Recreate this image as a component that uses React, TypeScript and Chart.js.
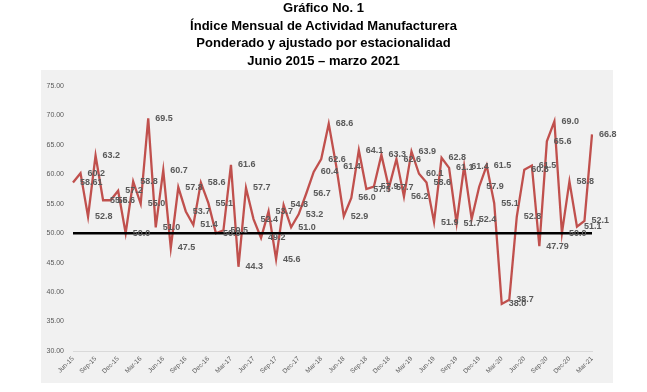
import React, { useEffect, useRef } from "react";
import { Chart, registerables } from "chart.js";

Chart.register(...registerables);

const titleLines = [
  "Gráfico No. 1",
  "Índice Mensual de Actividad Manufacturera",
  "Ponderado y ajustado por estacionalidad",
  "Junio 2015 – marzo 2021",
];

const months = [
  "Jun-15", "Jul-15", "Aug-15", "Sep-15", "Oct-15", "Nov-15", "Dec-15",
  "Jan-16", "Feb-16", "Mar-16", "Apr-16", "May-16", "Jun-16", "Jul-16", "Aug-16", "Sep-16", "Oct-16", "Nov-16", "Dec-16",
  "Jan-17", "Feb-17", "Mar-17", "Apr-17", "May-17", "Jun-17", "Jul-17", "Aug-17", "Sep-17", "Oct-17", "Nov-17", "Dec-17",
  "Jan-18", "Feb-18", "Mar-18", "Apr-18", "May-18", "Jun-18", "Jul-18", "Aug-18", "Sep-18", "Oct-18", "Nov-18", "Dec-18",
  "Jan-19", "Feb-19", "Mar-19", "Apr-19", "May-19", "Jun-19", "Jul-19", "Aug-19", "Sep-19", "Oct-19", "Nov-19", "Dec-19",
  "Jan-20", "Feb-20", "Mar-20", "Apr-20", "May-20", "Jun-20", "Jul-20", "Aug-20", "Sep-20", "Oct-20", "Nov-20", "Dec-20",
  "Jan-21", "Feb-21", "Mar-21",
];

const imae = [
  58.61, 60.2, 52.8, 63.2, 55.6, 55.6, 57.2, 50.0, 58.8, 55.0,
  69.5, 51.0, 60.7, 47.5, 57.8, 53.7, 51.4, 58.6, 55.1, 50.0,
  50.5, 61.6, 44.3, 57.7, 52.4, 49.2, 53.7, 45.6, 54.8, 51.0,
  53.2, 56.7, 60.4, 62.6, 68.6, 61.4, 52.9, 56.0, 64.1, 57.5,
  57.9, 63.3, 57.7, 62.6, 56.2, 63.9, 60.1, 58.6, 51.9, 62.8,
  61.1, 51.7, 61.4, 52.4, 57.9, 61.5, 55.1, 38.0, 38.7, 52.8,
  60.8, 61.5, 47.79, 65.6, 69.0, 50.0, 58.8, 51.1, 52.1, 66.8,
];

const threshold = 50;
const yMin = 30;
const yMax = 75;
const yStep = 5;

const FONT = "'Liberation Sans', Arial, sans-serif";

function fmt(v: number): string {
  const t = v * 10;
  return Math.abs(t - Math.round(t)) < 1e-6 ? v.toFixed(1) : v.toFixed(2);
}

const panelPlugin = {
  id: "panel",
  beforeDraw(chart: any) {
    const ctx = chart.ctx;
    ctx.save();
    ctx.fillStyle = "#f1f1f1";
    ctx.fillRect(41, 70, 572, 313);
    ctx.restore();
  },
};

const labelPlugin = {
  id: "valueLabels",
  afterDatasetsDraw(chart: any) {
    const meta = chart.getDatasetMeta(1);
    const ctx = chart.ctx;
    ctx.save();
    ctx.font = `bold 9px ${FONT}`;
    ctx.fillStyle = "#595959";
    ctx.textAlign = "left";
    ctx.textBaseline = "middle";
    meta.data.forEach((pt: any, i: number) => {
      ctx.fillText(fmt(imae[i]), pt.x + 7, pt.y);
    });
    ctx.restore();
  },
};

export default function App() {
  const ref = useRef<HTMLCanvasElement>(null);

  useEffect(() => {
    if (!ref.current) return;
    const chart = new Chart(ref.current, {
      type: "line",
      data: {
        labels: months,
        datasets: [
          {
            data: months.map(() => threshold),
            borderColor: "#000000",
            borderWidth: 2.5,
            pointRadius: 0,
            tension: 0,
          },
          {
            data: imae,
            borderColor: "#c0504d",
            borderWidth: 2.3,
            pointRadius: 0,
            tension: 0,
          },
        ],
      },
      options: {
        animation: false,
        responsive: false,
        maintainAspectRatio: false,
        layout: { padding: { top: 86, right: 55, left: 41, bottom: 9 } },
        plugins: {
          legend: { display: false },
          tooltip: { enabled: false },
          title: { display: false },
        },
        scales: {
          x: {
            grid: { display: false, drawTicks: false },
            border: { display: true, color: "#d9d9d9", width: 1 },
            ticks: {
              autoSkip: false,
              maxRotation: 45,
              minRotation: 45,
              padding: 4,
              color: "#595959",
              font: { size: 6.5, family: FONT },
              callback: (_v: any, i: number) => (i % 3 === 0 ? months[i] : ""),
            },
            afterFit: (s: any) => {
              s.height = 32;
            },
          },
          y: {
            min: yMin,
            max: yMax,
            grid: { display: false, drawTicks: false },
            border: { display: false },
            ticks: {
              stepSize: yStep,
              padding: 9,
              color: "#595959",
              font: { size: 7, family: FONT },
              callback: (v: any) => Number(v).toFixed(2),
            },
            afterFit: (s: any) => {
              s.width = 32;
            },
          },
        },
      },
      plugins: [panelPlugin, labelPlugin],
    });
    return () => chart.destroy();
  }, []);

  return (
    <div
      style={{
        position: "fixed",
        left: 0,
        top: 0,
        width: 647,
        height: 392,
        background: "#ffffff",
        overflow: "hidden",
      }}
    >
      <canvas
        ref={ref}
        width={647}
        height={392}
        style={{ position: "absolute", left: 0, top: 0, display: "block" }}
      />
      {titleLines.map((t, i) => (
        <div
          key={i}
          style={{
            position: "absolute",
            left: 0,
            width: 647,
            top: i * 17.7,
            height: 16,
            lineHeight: "16px",
            textAlign: "center",
            fontFamily: FONT,
            fontWeight: "bold",
            fontSize: 13,
            color: "#000",
          }}
        >
          {t}
        </div>
      ))}
    </div>
  );
}
